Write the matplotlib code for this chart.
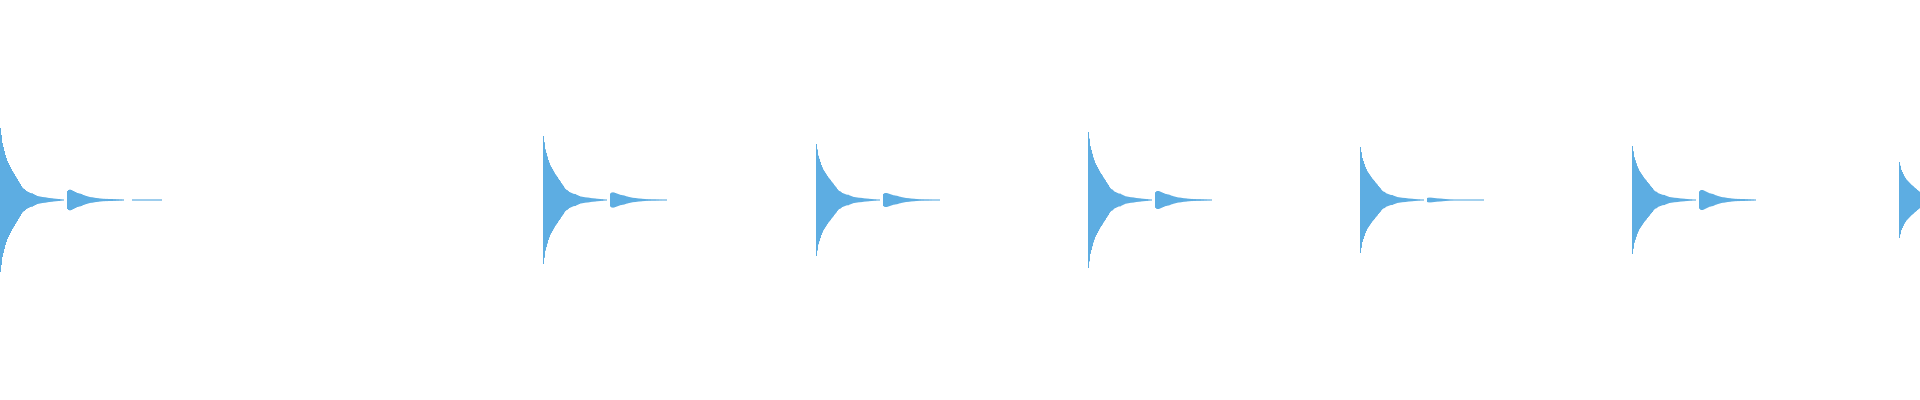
import numpy as np
import matplotlib
matplotlib.use("Agg")
import matplotlib.pyplot as plt

# ---- data ----
# waveform is drawn as 1920 columns; amplitude as fraction of full scale (+-1)
n_columns = 1920

# column where each hit starts
onsets = [0, 543, 816, 1088, 1360, 1632, 1899]
# peak amplitude of each main hit
main_peaks = [0.360, 0.320, 0.280, 0.340, 0.265, 0.270, 0.190]
# peak amplitude of each echo hit
echo_peaks = [0.0515, 0.038, 0.035, 0.045, 0.012, 0.050, 0.0]

# decay envelope of a main hit, per column after onset (pixels at peak 72)
main_env = [72, 65, 57, 53, 49, 45, 42, 39, 37, 35, 33, 31, 29, 27.5, 26, 24,
            22.5, 21, 19, 17.5, 16, 14, 12.5, 11.5, 11, 10, 9, 8.5, 8, 7.5, 7,
            6.8, 6.7, 6, 5.5, 5, 4.5, 4, 3.8, 3.6, 3.4, 3.2, 3, 2.9, 2.8, 2.7,
            2.5, 2.3, 2.1, 2, 1.9, 1.8, 1.7, 1.5, 1.4, 1.3, 1.2, 1.1, 1, 1,
            0.8, 0.7, 0.6, 0.5]

# echo hit: starts this many columns after the onset
echo_offset = 67
echo_env = [9, 10, 10.3, 10.3, 10, 9.5, 9, 8.5, 8, 7.5, 7, 6.8, 6.5, 6.3, 6,
            5.5, 5, 4.7, 4.3, 4, 3.7, 3.4, 3.1, 2.9, 2.8, 2.7, 2.5, 2.3, 2.1,
            2, 1.9, 1.8, 1.6, 1.5, 1.4, 1.3, 1.2, 1.2, 1.1, 1.1, 1.1, 1, 1, 1,
            1, 1, 0.9, 0.9, 0.9, 0.8, 0.8, 0.8, 0.7, 0.7, 0.7, 0.6, 0.6]

# faint tail after the first hit (start column, end column, amplitude)
tail_start = 132
tail_end = 162
tail_amp = 0.003

wave_color = "#5DADE2"

# ---- build column amplitudes ----
amp = np.zeros(n_columns)
main_rel = np.array(main_env) / main_env[0]
echo_rel = np.array(echo_env) / max(echo_env)
for on, mp, ep in zip(onsets, main_peaks, echo_peaks):
    for i, r in enumerate(main_rel):
        c = on + i
        if 0 <= c < n_columns:
            amp[c] = max(amp[c], mp * r)
    for i, r in enumerate(echo_rel):
        c = on + echo_offset + i
        if 0 <= c < n_columns and ep > 0:
            amp[c] = max(amp[c], ep * r)
amp[tail_start:tail_end] = np.maximum(amp[tail_start:tail_end], tail_amp)

min_amp = 0.0028  # about half a pixel, so faint parts still show
amp = np.where(amp > 0, np.maximum(amp, min_amp), 0)

edges = np.arange(n_columns + 1)
amp_ext = np.append(amp, amp[-1])

fig = plt.figure(figsize=(19.2, 4), dpi=100)
ax = fig.add_axes([0, 0, 1, 1])
ax.fill_between(edges, -amp_ext, amp_ext, step="post",
                color=wave_color, linewidth=0, where=None)
ax.set_xlim(0, n_columns)
ax.set_ylim(-1, 1)
ax.axis("off")
fig.savefig("out.png", dpi=100, facecolor="white")
